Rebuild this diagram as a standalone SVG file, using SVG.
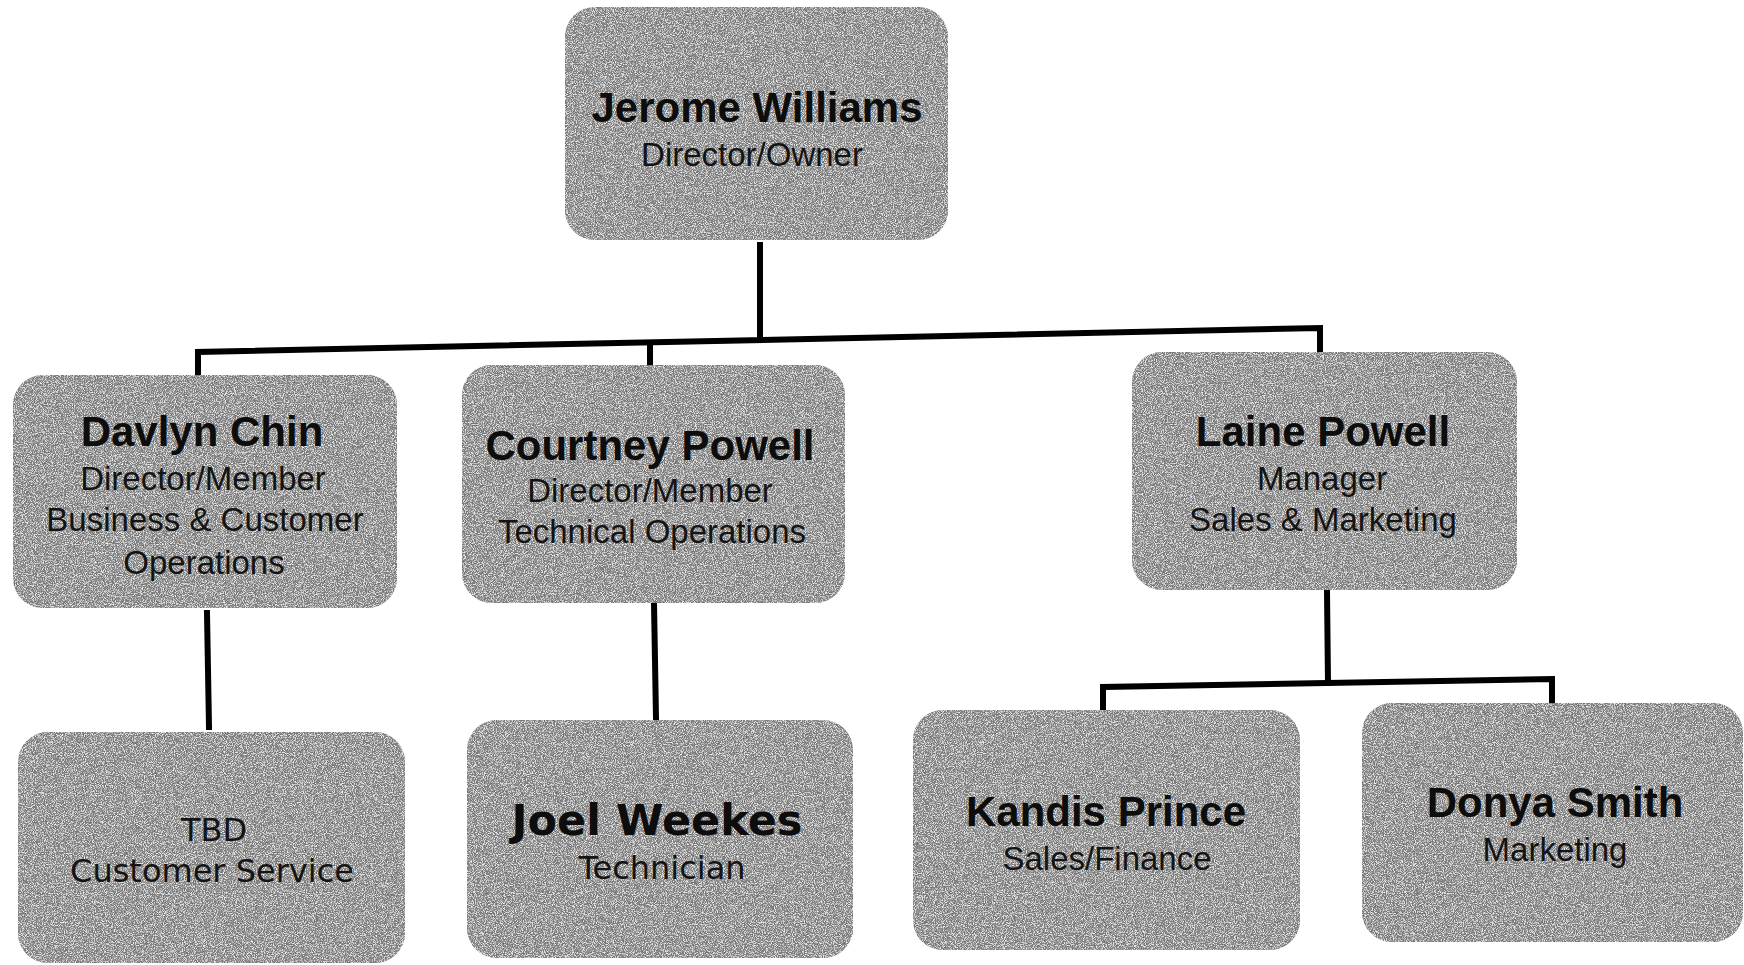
<svg xmlns="http://www.w3.org/2000/svg" width="1744" height="965" viewBox="0 0 1744 965">
<style>
.box{fill:#949494;filter:url(#grain)}
.nm{font-family:"Liberation Sans",Arial,sans-serif;font-weight:bold;font-size:42px;fill:#0d0d0d;text-anchor:middle}
.sb{font-family:"Liberation Sans",Arial,sans-serif;font-size:33px;fill:#141414;text-anchor:middle}
.nmd{font-family:"DejaVu Sans",Verdana,sans-serif;font-weight:bold;font-size:43px;fill:#0d0d0d;text-anchor:middle}
.sbd{font-family:"DejaVu Sans",Verdana,sans-serif;font-size:32px;fill:#141414;text-anchor:middle}
.ln{fill:none;stroke:#000;stroke-width:6;stroke-linecap:square;stroke-linejoin:miter}
</style>
<defs>
<filter id="grain" x="0" y="0" width="100%" height="100%">
<feTurbulence type="fractalNoise" baseFrequency="1.1" numOctaves="2" seed="7" result="n"/>
<feColorMatrix in="n" type="matrix" values="0 0 0 0 0.15 0 0 0 0 0.15 0 0 0 0 0.15 0 0 0 3.2 -1.4" result="dark"/>
<feColorMatrix in="n" type="matrix" values="0 0 0 0 0.9 0 0 0 0 0.9 0 0 0 0 0.9 0 0 0 -3.2 1.7" result="light"/>
<feComposite in="dark" in2="SourceGraphic" operator="in" result="d"/>
<feComposite in="light" in2="SourceGraphic" operator="in" result="l"/>
<feMerge><feMergeNode in="SourceGraphic"/><feMergeNode in="l"/><feMergeNode in="d"/></feMerge>
</filter>
</defs>
<rect width="1744" height="965" fill="#ffffff"/>
<g id="connectors">
<path class="ln" d="M760 245 L760 340"/>
<path class="ln" d="M198 375 L198 352 L1320 328 L1320 351"/>
<path class="ln" d="M650 344 L650 365"/>
<path class="ln" d="M207 613 L209 727"/>
<path class="ln" d="M654 603 L656 718"/>
<path class="ln" d="M1327 591 L1328 683"/>
<path class="ln" d="M1103 710 L1103 687 L1552 679 L1552 703"/>
</g>
<g id="jerome">
<rect class="box" x="565" y="7" width="383" height="233" rx="30"/>
<text class="nm" x="757" y="122">Jerome Williams</text>
<text class="sb" x="752" y="166">Director/Owner</text>
</g>
<g id="davlyn">
<rect class="box" x="13" y="375" width="384" height="233" rx="30"/>
<text class="nm" x="202" y="446">Davlyn Chin</text>
<text class="sb" x="203" y="490">Director/Member</text>
<text class="sb" x="205" y="531">Business &amp; Customer</text>
<text class="sb" x="204" y="574">Operations</text>
</g>
<g id="courtney">
<rect class="box" x="462" y="365" width="383" height="238" rx="30"/>
<text class="nm" x="650" y="460">Courtney Powell</text>
<text class="sb" x="650" y="502">Director/Member</text>
<text class="sb" x="652" y="543">Technical Operations</text>
</g>
<g id="laine">
<rect class="box" x="1132" y="352" width="385" height="238" rx="30"/>
<text class="nm" x="1323" y="446">Laine Powell</text>
<text class="sb" x="1322" y="490">Manager</text>
<text class="sb" x="1323" y="531">Sales &amp; Marketing</text>
</g>
<g id="tbd">
<rect class="box" x="18" y="732" width="387" height="231" rx="30"/>
<text class="sbd" x="214" y="841">TBD</text>
<text class="sbd" x="212" y="882">Customer Service</text>
</g>
<g id="joel">
<rect class="box" x="467" y="720" width="386" height="238" rx="30"/>
<text class="nmd" x="657" y="835">Joel Weekes</text>
<text class="sbd" x="662" y="879">Technician</text>
</g>
<g id="kandis">
<rect class="box" x="913" y="710" width="387" height="240" rx="30"/>
<text class="nm" x="1106" y="826">Kandis Prince</text>
<text class="sb" x="1107" y="870">Sales/Finance</text>
</g>
<g id="donya">
<rect class="box" x="1362" y="703" width="381" height="239" rx="30"/>
<text class="nm" x="1555" y="817">Donya Smith</text>
<text class="sb" x="1555" y="861">Marketing</text>
</g>
</svg>
